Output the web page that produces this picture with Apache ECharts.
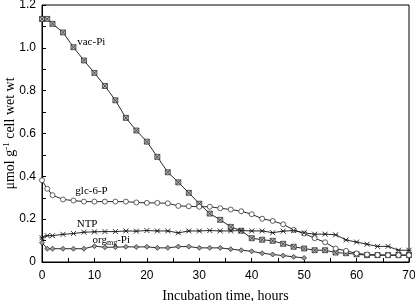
<!DOCTYPE html>
<html>
<head>
<meta charset="utf-8">
<script src="https://cdn.jsdelivr.net/npm/echarts@6/dist/echarts.min.js"></script>
<style>
  html, body { margin: 0; padding: 0; background: #fff; }
  #chart { width: 415px; height: 301px; }
</style>
</head>
<body>
<div id="chart"></div>
<script>
const hours = [0, 1, 2, 4, 6, 8, 10, 12, 14, 16, 18, 20, 22, 24, 26, 28, 30, 32, 34,
  36, 38, 40, 42, 44, 46, 48, 50, 52, 54, 56, 58, 60, 62, 64, 66, 68, 70]

const vacPi = [1.135, 1.135, 1.112, 1.072, 1.003, 0.941, 0.883, 0.822, 0.755, 0.673,
  0.614, 0.562, 0.491, 0.419, 0.372, 0.323, 0.272, 0.226, 0.197, 0.164, 0.146, 0.111,
  0.104, 0.099, 0.085, 0.071, 0.063, 0.055, 0.055, 0.044, 0.041, 0.036, 0.032, 0.032,
  0.032, 0.032, 0.032]

const glc6P = [0.382, 0.342, 0.312, 0.292, 0.287, 0.282, 0.282, 0.282, 0.282, 0.282,
  0.278, 0.276, 0.276, 0.274, 0.262, 0.260, 0.258, 0.258, 0.251, 0.245, 0.237, 0.223,
  0.202, 0.192, 0.176, 0.150, 0.133, 0.111, 0.092, 0.063, 0.052, 0.040, 0.035, 0.033,
  0.032, 0.032, 0.032]

const ntp = [0.113, 0.123, 0.123, 0.129, 0.133, 0.139, 0.141, 0.142, 0.142, 0.145,
  0.144, 0.147, 0.145, 0.145, 0.136, 0.145, 0.145, 0.147, 0.145, 0.145, 0.147, 0.145,
  0.145, 0.137, 0.144, 0.147, 0.136, 0.130, 0.130, 0.127, 0.103, 0.093, 0.083, 0.073,
  0.073, 0.055, 0.055]

// org-Pi stops at 50 h
const orgPi = [0.090, 0.062, 0.062, 0.062, 0.062, 0.062, 0.074, 0.069, 0.069, 0.071,
  0.070, 0.071, 0.066, 0.066, 0.072, 0.072, 0.066, 0.066, 0.066, 0.060, 0.055, 0.050,
  0.041, 0.035, 0.030, 0.024, 0.019]

const yTicks = [0, 0.2, 0.4, 0.6, 0.8, 1.0, 1.2]
const xTicks = [0, 10, 20, 30, 40, 50, 60, 70]

const pairs = (vals) => vals.map((v, i) => [hours[i], v])

const serif = "Liberation Serif"
const sans = "Liberation Sans"

const boxX = "path://M0,0H10V10H0Z M0,0L10,10 M10,0L0,10"
const star = "path://M0,0L10,10 M10,0L0,10 M0,5H10"

const lineBase = {
  type: "line",
  showSymbol: true,
  lineStyle: { color: "#111", width: 0.9 },
  animation: false,
  z: 3,
}

// coord = centre of the text
const label = (coord, text) => ({
  coord,
  symbolSize: 0,
  label: {
    show: true,
    position: "inside",
    align: "center",
    verticalAlign: "middle",
    formatter: text,
    color: "#000",
    fontFamily: serif,
    fontSize: 11,
    rich: {
      sub: { fontFamily: serif, fontSize: 8, padding: [7, 0, 0, 0] },
    },
  },
})

const chart = echarts.init(document.getElementById("chart"))

chart.setOption({
  textStyle: { fontFamily: sans },
  grid: {
    left: 42,
    right: 6,
    top: 5,
    bottom: 39,
    outerBoundsMode: "none",
    containLabel: false,
    show: true,
    borderColor: "#000",
    borderWidth: 1,
  },
  xAxis: {
    type: "value",
    min: 0,
    max: 70,
    interval: 10,
    name: "Incubation time, hours",
    nameLocation: "middle",
    nameGap: 27,
    nameMoveOverlap: false,
    nameTextStyle: { fontFamily: serif, fontSize: 14, color: "#000" },
    axisLine: { lineStyle: { color: "#000" } },
    axisTick: { inside: true, length: 4, lineStyle: { color: "#000" } },
    minorTick: { show: true, splitNumber: 2, length: 4, lineStyle: { color: "#000" } },
    splitLine: { show: false },
    axisLabel: {
      color: "#000",
      fontSize: 12,
      margin: 8,
      formatter: (v) => (xTicks.includes(v) ? String(v) : ""),
    },
  },
  yAxis: {
    type: "value",
    min: 0,
    max: 1.2,
    interval: 0.2,
    name: "μmol g{sup|-1} cell wet wt",
    nameLocation: "middle",
    nameGap: 24,
    nameMoveOverlap: false,
    nameTextStyle: {
      fontFamily: serif,
      fontSize: 14,
      color: "#000",
      rich: {
        sup: { fontFamily: serif, fontSize: 9, padding: [0, 0, 7, 0] },
      },
    },
    axisLine: { lineStyle: { color: "#000" } },
    axisTick: { inside: true, length: 4, lineStyle: { color: "#000" } },
    minorTick: { show: true, splitNumber: 2, length: 4, lineStyle: { color: "#000" } },
    splitLine: { show: false },
    axisLabel: {
      color: "#000",
      fontSize: 12,
      margin: 6,
      formatter: (v) => {
        const t = yTicks.find((k) => Math.abs(k - v) < 1e-6)
        if (t === undefined) return ""
        return t === 0 ? "0" : t.toFixed(1)
      },
    },
  },
  series: [
    {
      ...lineBase,
      name: "vac-Pi",
      data: pairs(vacPi),
      symbol: boxX,
      symbolSize: 5,
      itemStyle: { color: "#bbb", borderColor: "#222", borderWidth: 0.7 },
      markPoint: { animation: false, data: [label([9.4, 1.025], "vac-Pi")] },
    },
    {
      ...lineBase,
      name: "glc-6-P",
      data: pairs(glc6P),
      symbol: "circle",
      symbolSize: 5,
      itemStyle: { color: "#fff", borderColor: "#222", borderWidth: 0.7 },
      markPoint: { animation: false, data: [label([9.45, 0.33], "glc-6-P")] },
    },
    {
      ...lineBase,
      name: "NTP",
      data: pairs(ntp),
      symbol: star,
      symbolSize: 5,
      itemStyle: { color: "#000", borderColor: "#222", borderWidth: 0.9 },
      markPoint: { animation: false, data: [label([8.6, 0.178], "NTP")] },
    },
    {
      ...lineBase,
      name: "org-Pi",
      data: pairs(orgPi),
      symbol: "diamond",
      symbolSize: 5,
      itemStyle: { color: "#999", borderColor: "#222", borderWidth: 0.7 },
      markPoint: { animation: false, data: [label([13.2, 0.104], "org{sub|mg}-Pi")] },
    },
  ],
})
</script>
</body>
</html>
